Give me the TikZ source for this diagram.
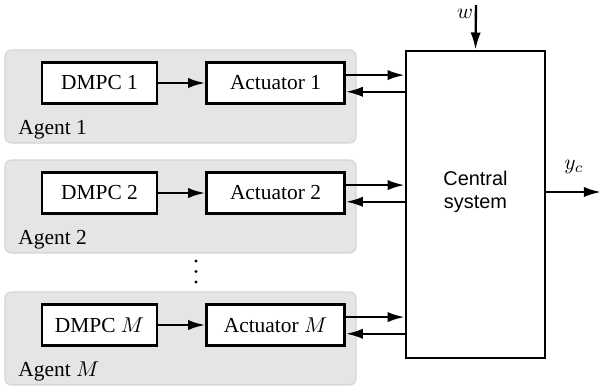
\documentclass[tikz,border=0pt]{standalone}
\usepackage{fontspec}
\setmainfont{Liberation Serif}
\setsansfont{Liberation Sans}
\usetikzlibrary{arrows.meta}

\begin{document}
\begin{tikzpicture}[x=0.467pt, y=-0.467pt,
    agentbox/.style={draw=black!17, fill=black!10, rounded corners=3pt, line width=0.5pt},
    blk/.style={draw, line width=1.25pt, fill=white, inner sep=0pt, minimum height=19.1pt},
    sig/.style={line width=1.1pt, -{Latex[length=8pt, width=4.8pt]}}]
    \useasboundingbox (0, 0) rectangle (601, 390);

    % central plant
    \node[blk, minimum width=64.9pt, minimum height=143.4pt] (cs) at (475.5, 204.5) {};
    \node[font=\sffamily\fontsize{9.3}{10.5}\selectfont, align=center] (cstext) at (475.5, 192) {Central\\system};

    % agents
    \foreach \n/\lbl/\yc in {1/1/83, 2/2/193, M/$M$/325} {
      \draw[agentbox] (5, {\yc-33}) rectangle (356, {\yc+60});
      \node[blk, minimum width=53.7pt] (dmpc\n) at (99.5, \yc) {DMPC \lbl};
      \node[blk, minimum width=64.4pt] (act\n) at (275.5, \yc) {Actuator \lbl};
      \node[anchor=base west, inner sep=0pt] (agent\n) at (18, {\yc+51}) {Agent \lbl};
      \draw[sig] (dmpc\n) -- (act\n);
      \coordinate (up\n) at ([yshift=3.7pt]act\n.east);
      \coordinate (dn\n) at ([yshift=-4.1pt]act\n.east);
      \draw[sig] (up\n) -- (up\n -| cs.west);
      \draw[sig] (dn\n -| cs.west) -- (dn\n);
    }

    % more agents
    \foreach \y in {261, 271.5, 282}
      \fill (196, \y) circle (0.75pt);

    % disturbance and output
    \coordinate (win) at (476, 5);
    \coordinate (yout) at (601, 192);
    \draw[sig] (win) -- (cs.north);
    \draw[sig] (cs.east |- yout) -- (yout);
    \node (wlbl) at (465, 14) {$w$};
    \node (ylbl) at (574, 167) {$y_c$};
\end{tikzpicture}
\end{document}
